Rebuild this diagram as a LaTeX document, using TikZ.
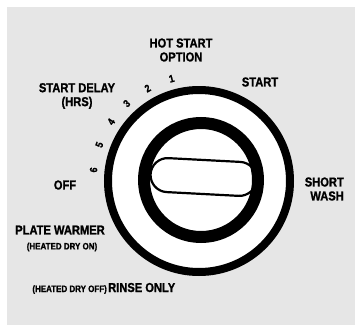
\documentclass[tikz,border=0pt]{standalone}
\usepackage{fontspec}
\newfontfamily\lbl{Liberation Sans}[FakeStretch=0.86,FakeBold=1.2]
\definecolor{bggray}{RGB}{230,230,230}
\begin{document}
\begin{tikzpicture}[x=1bp,y=-1bp,
  big/.style={inner sep=0pt, font=\lbl\bfseries\fontsize{13}{14}\selectfont},
  small/.style={inner sep=0pt, font=\lbl\bfseries\fontsize{9.3}{10}\selectfont},
  num/.style={inner sep=0pt, font=\lbl\bfseries\fontsize{10.5}{11}\selectfont}]
\useasboundingbox (0,0) rectangle (355,325);
\fill[white] (0,0) rectangle (355,325);
\fill[bggray] (7,7) rectangle (355,325);
% dial
\coordinate (c) at (199,181);
\coordinate (ci) at (201,180);
\draw[line width=8bp, fill=white] (c) circle[radius=91];
\draw[line width=12bp] (ci) circle[radius=57];
\draw[line width=2.2bp, rounded corners=17bp, rotate around={-3:(203.5,177)}]
  (150.5,160) rectangle (256.5,194);
% numbers
\foreach \n/\a in {1/105,2/119,3/133,4/146,5/160,6/174}{
  \node[num, rotate=\a-90] (n\n) at ([shift={(c)}]-\a:106) {\n};
}
% labels
\node[big, align=center] (hot) at (181,50) {HOT START\\OPTION};
\node[big, align=center] (delay) at (77,96) {START DELAY\\(HRS)};
\node[big] (start) at (260,82) {START};
\node[big] (off) at (65,185) {OFF};
\node[big, align=right, anchor=east] (short) at (344,189) {SHORT\\WASH};
\node[big] (plate) at (60,230) {PLATE WARMER};
\node[small] (hdon) at (62,247) {(HEATED DRY ON)};
\node[big, anchor=base west] (rinse) at (108,292) {RINSE ONLY};
\node[small, anchor=base east] (hdoff) at ([xshift=-1bp]rinse.base west) {(HEATED DRY OFF)};
\end{tikzpicture}
\end{document}
